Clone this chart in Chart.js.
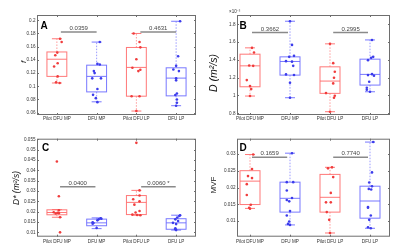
<!DOCTYPE html>
<html>
<head>
<meta charset="utf-8">
<script src="https://cdn.jsdelivr.net/npm/chart.js@4.4.0/dist/chart.umd.min.js"></script>
<style>
  html, body { margin: 0; padding: 0; background: #fff; }
  #fig { position: relative; width: 400px; height: 249px; overflow: hidden; }
  #fig canvas { position: absolute; }
</style>
</head>
<body>
<div id="fig">
  <canvas id="pA" width="200" height="125" style="left:0;top:0"></canvas>
  <canvas id="pB" width="200" height="125" style="left:200px;top:0"></canvas>
  <canvas id="pC" width="200" height="125" style="left:0;top:124px"></canvas>
  <canvas id="pD" width="200" height="125" style="left:200px;top:124px"></canvas>
</div>
<script>
const groups = ['Pilot DFU MP', 'DFU MP', 'Pilot DFU LP', 'DFU LP'];

// box stats per group: [lower whisker, q1, median, q3, upper whisker]
const boxesA = [
  [0.105, 0.115, 0.141, 0.152, 0.172],
  [0.0765, 0.0915, 0.115, 0.132, 0.167],
  [0.0625, 0.085, 0.1286, 0.1588, 0.18],
  [0.0706, 0.0855, 0.1124, 0.128, 0.1985]
];
const pointsA = [
  [0.172, 0.167, 0.151, 0.147, 0.135, 0.130, 0.115, 0.106, 0.105],
  [0.167, 0.134, 0.133, 0.123, 0.120, 0.112, 0.112, 0.096, 0.087, 0.082, 0.076],
  [0.18, 0.167, 0.159, 0.141, 0.128, 0.125, 0.123, 0.085, 0.085, 0.0625],
  [0.1985, 0.1456, 0.131, 0.1255, 0.123, 0.112, 0.109, 0.089, 0.0867, 0.080, 0.075, 0.0706]
];
// horizontal scatter of the dots, in category units
const jitterA = [
  [0.08, 0.12, 0.01, -0.04, 0.02, -0.07, 0.02, -0.02, 0.07],
  [0.08, 0.02, 0.08, -0.07, -0.05, -0.11, 0.11, 0.02, -0.09, -0.02, 0.02],
  [-0.07, 0.08, 0.1, 0.0, -0.1, 0.1, 0.05, -0.12, 0.08, 0.0],
  [0.1, 0.05, 0.0, -0.07, 0.07, 0.0, 0.0, 0.02, -0.02, 0.02, 0.02, 0.0]
];
const ticksA = [0.06, 0.08, 0.1, 0.12, 0.14, 0.16, 0.18, 0.2];
const pValuesA = ['0.0359', '0.4631'];

// D in units of 1e-3 mm2/s
const boxesB = [
  [0.994, 1.098, 1.333, 1.464, 1.535],
  [0.975, 1.229, 1.382, 1.434, 1.834],
  [0.818, 1.024, 1.162, 1.322, 1.58],
  [1.042, 1.117, 1.237, 1.408, 1.624]
];
const pointsB = [
  [1.535, 1.483, 1.337, 1.333, 1.173, 1.106, 1.072, 0.994],
  [1.834, 1.568, 1.445, 1.434, 1.386, 1.38, 1.333, 1.237, 1.23, 1.143, 0.975],
  [1.58, 1.363, 1.266, 1.199, 1.136, 1.027, 0.997, 0.975, 0.818],
  [1.624, 1.434, 1.423, 1.397, 1.24, 1.229, 1.221, 1.154, 1.087, 1.064, 1.042]
];
const jitterB = [
  [0.05, 0.1, -0.02, 0.08, -0.08, 0.0, 0.03, 0.0],
  [0.0, 0.05, 0.1, -0.02, -0.1, 0.05, 0.08, -0.1, 0.1, 0.0, 0.0],
  [0.0, 0.08, 0.12, 0.1, 0.08, -0.1, 0.12, 0.1, 0.0],
  [0.05, 0.08, 0.03, -0.05, 0.05, -0.05, 0.1, -0.02, -0.08, -0.08, 0.0]
];
const ticksB = [0.8, 1, 1.2, 1.4, 1.6, 1.8];
const pValuesB = ['0.3662', '0.2995'];

const boxesC = [
  [0.0173, 0.0185, 0.0196, 0.0209, 0.021],
  [0.0118, 0.0132, 0.0146, 0.0164, 0.017],
  [0.0183, 0.0186, 0.0245, 0.0278, 0.0303],
  [0.0111, 0.0115, 0.0146, 0.0166, 0.0183]
];
const pointsC = [
  [0.0443, 0.0275, 0.0207, 0.0197, 0.0195, 0.0193, 0.0191, 0.0173, 0.010],
  [0.0168, 0.0166, 0.0163, 0.0158, 0.0149, 0.0145, 0.0142, 0.0121],
  [0.0533, 0.0303, 0.0278, 0.026, 0.025, 0.0234, 0.0203, 0.0196, 0.0186, 0.0184, 0.0183],
  [0.0183, 0.0179, 0.0172, 0.0163, 0.0155, 0.0146, 0.014, 0.012, 0.0115, 0.0111]
];
const jitterC = [
  [0.0, 0.05, 0.05, -0.08, 0.02, 0.05, -0.03, 0.08, 0.08],
  [0.1, 0.12, 0.05, 0.02, -0.1, -0.08, -0.1, 0.0],
  [0.0, 0.08, 0.08, -0.08, 0.08, -0.05, 0.08, -0.02, -0.1, 0.02, 0.1],
  [0.1, 0.08, 0.03, -0.02, 0.05, -0.08, 0.0, -0.02, -0.02, 0.0]
];
const ticksC = [0.01, 0.015, 0.02, 0.025, 0.03, 0.035, 0.04, 0.045, 0.05, 0.055];
const pValuesC = ['0.0400', '0.0060 *'];

const boxesD = [
  [0.0138, 0.01495, 0.0219, 0.025, 0.0298],
  [0.0089, 0.0127, 0.0168, 0.0216, 0.0302],
  [0.0065, 0.0127, 0.0171, 0.0239, 0.026],
  [0.0079, 0.0109, 0.016, 0.0204, 0.0335]
];
const pointsD = [
  [0.0298, 0.0255, 0.0234, 0.0228, 0.021, 0.0178, 0.0149, 0.014, 0.0137],
  [0.0302, 0.0216, 0.0216, 0.0191, 0.0169, 0.0163, 0.0159, 0.013, 0.0117, 0.0099, 0.0092, 0.0089],
  [0.026, 0.0257, 0.0231, 0.0184, 0.0156, 0.0156, 0.0127, 0.0104, 0.0065],
  [0.0335, 0.0245, 0.0215, 0.0204, 0.0196, 0.0194, 0.0142, 0.014, 0.0117, 0.0104, 0.0082, 0.0079]
];
const jitterD = [
  [0.08, 0.05, -0.05, 0.05, -0.08, -0.08, 0.02, -0.02, 0.0],
  [0.05, -0.08, 0.08, -0.08, 0.05, -0.08, -0.02, 0.0, -0.08, -0.02, -0.05, 0.0],
  [0.05, -0.05, 0.08, 0.02, -0.1, 0.02, -0.08, -0.02, 0.0],
  [0.08, 0.05, -0.02, 0.05, -0.03, 0.03, -0.05, -0.05, 0.02, -0.02, -0.05, 0.02]
];
const ticksD = [0.01, 0.015, 0.02, 0.025, 0.03];
const pValuesD = ['0.1659', '0.7740'];

const FONT = 'Liberation Sans, Arial, sans-serif';
const RED = { box: 'rgba(255,105,105,0.9)', whisk: 'rgba(255,130,130,0.8)', pt: 'rgb(240,60,60)' };
const BLUE = { box: 'rgba(105,105,255,0.9)', whisk: 'rgba(130,130,255,0.8)', pt: 'rgb(60,60,235)' };

function makePanel(p) {
  const datasets = p.points.map((vals, i) => ({
    data: vals.map((v, j) => ({ x: i + 1 + p.jitter[i][j], y: v })),
    backgroundColor: i % 2 ? BLUE.pt : RED.pt,
    borderColor: i % 2 ? BLUE.pt : RED.pt,
    pointRadius: 1.3,
    borderWidth: 0
  }));

  const boxPlugin = {
    id: 'box_' + p.id,
    beforeDatasetsDraw(chart) {
      const ctx = chart.ctx, xs = chart.scales.x, ys = chart.scales.y;
      p.stats.forEach((s, i) => {
        const col = i % 2 ? BLUE : RED;
        const cx = xs.getPixelForValue(i + 1);
        const half = xs.getPixelForValue(i + 1.25) - cx;
        const cap = half / 2;
        const [lo, q1, med, q3, hi] = s.map(v => ys.getPixelForValue(v));
        ctx.save();
        ctx.lineWidth = 1;
        ctx.strokeStyle = col.whisk;
        ctx.setLineDash([1.5, 1.5]);
        ctx.beginPath();
        ctx.moveTo(cx, q3); ctx.lineTo(cx, hi);
        ctx.moveTo(cx, q1); ctx.lineTo(cx, lo);
        ctx.stroke();
        ctx.setLineDash([]);
        ctx.strokeStyle = col.box;
        ctx.beginPath();
        ctx.moveTo(cx - cap, hi); ctx.lineTo(cx + cap, hi);
        ctx.moveTo(cx - cap, lo); ctx.lineTo(cx + cap, lo);
        ctx.moveTo(cx - half, med); ctx.lineTo(cx + half, med);
        ctx.stroke();
        ctx.strokeRect(cx - half, q3, 2 * half, q1 - q3);
        ctx.restore();
      });
    },
    afterDraw(chart) {
      const ctx = chart.ctx, xs = chart.scales.x, ys = chart.scales.y;
      const a = chart.chartArea;
      ctx.save();
      // axes box with inward ticks
      ctx.strokeStyle = '#6e6e6e';
      ctx.lineWidth = 1;
      ctx.strokeRect(a.left + 0.5, a.top + 0.5, a.right - a.left - 1, a.bottom - a.top - 1);
      ctx.beginPath();
      p.ticks.forEach(v => {
        const y = Math.round(ys.getPixelForValue(v)) + 0.5;
        ctx.moveTo(a.left, y); ctx.lineTo(a.left + 2, y);
        ctx.moveTo(a.right, y); ctx.lineTo(a.right - 2, y);
      });
      groups.forEach((g, i) => {
        const x = Math.round(xs.getPixelForValue(i + 1)) + 0.5;
        ctx.moveTo(x, a.bottom); ctx.lineTo(x, a.bottom - 2);
        ctx.moveTo(x, a.top); ctx.lineTo(x, a.top + 2);
      });
      ctx.stroke();

      // significance bars
      const sy = ys.getPixelForValue(p.sig.y);
      p.pValues.forEach((txt, k) => {
        const [f, t] = p.sig.spans[k];
        const x1 = xs.getPixelForValue(f), x2 = xs.getPixelForValue(t);
        ctx.strokeStyle = '#8a8a8a';
        ctx.lineWidth = 1.5;
        ctx.beginPath(); ctx.moveTo(x1, sy); ctx.lineTo(x2, sy); ctx.stroke();
        ctx.fillStyle = '#444';
        ctx.font = '6px ' + FONT;
        ctx.textAlign = 'center';
        ctx.textBaseline = 'alphabetic';
        ctx.fillText(txt, (x1 + x2) / 2, sy - 2);
      });

      // panel letter
      ctx.fillStyle = '#000';
      ctx.font = 'bold 10px ' + FONT;
      ctx.textAlign = 'left';
      ctx.fillText(p.label, a.left + p.labelPos[0], a.top + p.labelPos[1]);

      // y title
      ctx.save();
      ctx.translate(p.titlePos[0], p.titlePos[1]);
      ctx.rotate(-Math.PI / 2);
      ctx.textAlign = 'center';
      ctx.textBaseline = 'middle';
      ctx.font = p.titleFont;
      ctx.fillStyle = '#111';
      ctx.fillText(p.yTitle, 0, 0);
      ctx.restore();

      if (p.exponent) {
        ctx.font = '4.5px ' + FONT;
        ctx.fillStyle = '#333';
        ctx.textAlign = 'left';
        ctx.fillText(p.exponent, a.left - 8, a.top - 2);
      }
      ctx.restore();
    }
  };

  return new Chart(document.getElementById(p.id), {
    type: 'scatter',
    data: { datasets },
    options: {
      responsive: false,
      animation: false,
      devicePixelRatio: 1,
      layout: { padding: { top: p.padTop, right: p.padRight, left: 0, bottom: 0 } },
      plugins: { legend: { display: false }, tooltip: { enabled: false } },
      scales: {
        x: {
          type: 'linear',
          min: p.xMin, max: 4.5,
          grid: { display: false, drawTicks: false },
          border: { display: false },
          afterBuildTicks: s => { s.ticks = groups.map((g, i) => ({ value: i + 1 })); },
          afterFit: s => { s.height = p.xHeight; },
          ticks: {
            padding: p.xPad,
            color: '#333',
            font: { family: FONT, size: 4.6 },
            maxRotation: 0,
            autoSkip: false,
            callback: v => groups[v - 1]
          }
        },
        y: {
          min: p.yMin, max: p.yMax,
          grid: { display: false, drawTicks: false },
          border: { display: false },
          afterBuildTicks: s => { s.ticks = p.ticks.map(v => ({ value: v })); },
          afterFit: s => { s.width = 37; },
          ticks: {
            padding: 1.5,
            color: '#333',
            font: { family: FONT, size: 4.6 },
            callback: v => String(+v.toFixed(4))
          }
        }
      }
    },
    plugins: [boxPlugin]
  });
}

makePanel({
  id: 'pA', stats: boxesA, points: pointsA, jitter: jitterA, ticks: ticksA, pValues: pValuesA,
  yMin: 0.0565, yMax: 0.208, xMin: 0.5, padTop: 15, padRight: 3, xHeight: 10, xPad: 0.5,
  sig: { y: 0.1823, spans: [[1.1, 2.0], [3.1, 4.0]] },
  label: 'A', labelPos: [3.5, 13.5],
  yTitle: 'f', titlePos: [24, 62], titleFont: 'italic 8px ' + FONT
});

makePanel({
  id: 'pB', stats: boxesB, points: pointsB, jitter: jitterB, ticks: ticksB, pValues: pValuesB,
  yMin: 0.781, yMax: 1.904, xMin: 0.675, padTop: 15, padRight: 10, xHeight: 10, xPad: 0.5,
  sig: { y: 1.707, spans: [[1.05, 1.95], [3.08, 3.95]] },
  label: 'B', labelPos: [2.5, 13.5],
  yTitle: 'D (m²/s)', titlePos: [14, 73], titleFont: 'italic 10.5px ' + FONT,
  exponent: '×10⁻³'
});

makePanel({
  id: 'pC', stats: boxesC, points: pointsC, jitter: jitterC, ticks: ticksC, pValues: pValuesC,
  yMin: 0.0079, yMax: 0.0553, xMin: 0.5, padTop: 14.7, padRight: 3, xHeight: 12.3, xPad: 2.2,
  sig: { y: 0.0321, spans: [[1.08, 1.97], [3.12, 3.99]] },
  label: 'C', labelPos: [5, 12],
  yTitle: 'D* (m²/s)', titlePos: [17, 64], titleFont: 'italic 8.5px ' + FONT
});

makePanel({
  id: 'pD', stats: boxesD, points: pointsD, jitter: jitterD, ticks: ticksD, pValues: pValuesD,
  yMin: 0.0054, yMax: 0.0345, xMin: 0.675, padTop: 14.7, padRight: 10, xHeight: 12.3, xPad: 2.2,
  sig: { y: 0.029, spans: [[1.05, 1.93], [3.08, 3.95]] },
  label: 'D', labelPos: [2.5, 12],
  yTitle: 'MVF', titlePos: [14, 61], titleFont: '8px ' + FONT
});
</script>
</body>
</html>
